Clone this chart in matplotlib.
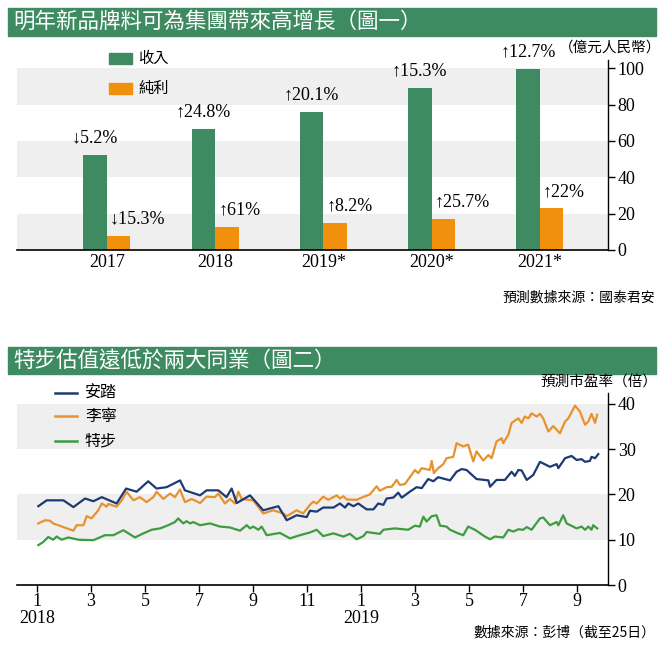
import matplotlib
matplotlib.use("Agg")
import matplotlib.pyplot as plt
from matplotlib.patches import Rectangle
import numpy as np

# ---------------- data: chart 1 ----------------
years = ['2017', '2018', '2019*', '2020*', '2021*']
revenue = [52.3, 66.6, 76.1, 89.0, 99.6]
profit = [7.7, 12.7, 15.0, 17.1, 22.9]
rev_growth = ['↓5.2%', '↑24.8%', '↑20.1%', '↑15.3%', '↑12.7%']
profit_growth = ['↓15.3%', '↑61%', '↑8.2%', '↑25.7%', '↑22%']

# ---------------- data: chart 2 (months since Jan 2018) ----------------
anta_m = [0.05, 0.36, 0.98, 1.35, 1.78, 2.09, 2.40, 2.95, 3.30, 3.69, 4.12, 4.43, 4.80, 5.30,
          5.48, 6.04, 6.28, 6.72, 7.02, 7.21, 7.40, 7.89, 8.38, 8.94, 9.25, 9.62, 9.99, 10.11,
          10.36, 10.60, 10.98, 11.22, 11.41, 11.53, 11.72, 11.90, 12.21, 12.46, 12.64, 12.83,
          12.95, 13.20, 13.38, 13.51, 13.81, 14.06, 14.25, 14.49, 14.68, 14.86, 15.30, 15.54,
          15.73, 15.91, 16.28, 16.72, 16.78, 17.02, 17.33, 17.58, 17.70, 17.83, 17.95, 18.14,
          18.38, 18.63, 19.00, 19.25, 19.31, 19.56, 19.80, 19.99, 20.17, 20.30, 20.48, 20.54,
          20.67, 20.79]
anta_v = [17.4, 18.7, 18.7, 17.2, 19.1, 18.5, 19.4, 18.0, 21.3, 20.6, 22.9, 21.3, 21.6, 23.1,
          20.9, 19.8, 20.9, 20.9, 19.4, 21.3, 18.1, 19.8, 16.5, 17.4, 14.3, 15.4, 15.0, 16.4,
          16.2, 17.1, 17.1, 18.0, 17.1, 18.0, 17.4, 18.0, 16.7, 16.7, 18.0, 17.7,
          19.1, 19.3, 20.4, 19.3, 20.6, 21.6, 21.4, 23.4, 22.9, 23.8, 23.1, 25.0,
          25.6, 25.4, 23.4, 23.1, 21.7, 23.2, 23.2, 25.0, 24.1, 25.4, 25.3, 23.2,
          24.3, 27.2, 26.1, 26.7, 25.8, 28.0, 28.5, 27.6, 27.8, 27.2, 27.4, 28.3,
          28.0, 28.9]

lining_m = [0.05, 0.30, 0.48, 0.60, 1.35, 1.47, 1.72, 1.84, 2.02, 2.27, 2.40, 2.58, 2.64, 2.95,
            3.14, 3.32, 3.57, 3.81, 4.06, 4.31, 4.43, 4.68, 4.93, 5.11, 5.30, 5.48, 5.73, 6.04,
            6.28, 6.59, 6.72, 6.96, 7.15, 7.33, 7.46, 7.58, 8.01, 8.38, 8.75, 9.12, 9.25, 9.62,
            9.86, 10.11, 10.23, 10.36, 10.60, 10.79, 11.10, 11.22, 11.35, 11.47, 11.84, 12.15,
            12.33, 12.58, 12.70, 12.95, 13.14, 13.32, 13.44, 13.63, 13.81, 14.00, 14.12, 14.25,
            14.55, 14.62, 14.70, 14.86, 15.05, 15.17, 15.42, 15.54, 15.79, 15.97, 16.16, 16.28,
            16.53, 16.72, 16.84, 17.02, 17.21, 17.27, 17.46, 17.58, 17.83, 17.95, 18.07, 18.20,
            18.32, 18.51, 18.63, 18.75, 18.94, 19.12, 19.37, 19.56, 19.68, 19.93, 20.11, 20.30,
            20.42, 20.54, 20.67, 20.75]
lining_v = [13.6, 14.3, 14.2, 13.6, 12.0, 13.2, 13.2, 15.2, 14.7, 16.5, 18.0, 17.3, 17.9, 17.3,
            18.7, 20.6, 18.7, 19.4, 18.3, 19.4, 20.6, 19.0, 20.2, 19.4, 21.1, 18.3, 19.0, 18.1,
            19.5, 19.4, 20.2, 18.0, 19.0, 18.0, 20.6, 19.0, 18.7, 15.8, 16.5, 15.8, 15.2, 16.5,
            15.8, 17.7, 18.4, 18.0, 19.5, 18.8, 19.8, 19.1, 19.6, 18.9, 18.8, 19.6,
            20.0, 21.8, 20.8, 21.6, 21.7, 23.2, 22.1, 22.3, 23.8, 25.4, 24.7, 25.8,
            25.4, 27.4, 24.7, 25.8, 26.7, 28.0, 28.3, 31.3, 30.6, 31.0, 27.3, 29.5,
            27.5, 28.7, 28.0, 31.7, 32.4, 31.3, 33.2, 35.8, 36.8, 35.8, 37.2, 36.8,
            37.9, 37.2, 37.8, 36.8, 33.9, 35.1, 33.5, 36.1, 36.8, 39.6, 38.3, 35.4,
            36.1, 37.8, 35.8, 37.6]

xtep_m = [0.05, 0.23, 0.42, 0.60, 0.73, 0.91, 1.16, 1.53, 2.09, 2.52, 2.83, 3.20, 3.63, 3.94,
          4.25, 4.56, 4.86, 5.11, 5.23, 5.42, 5.54, 5.67, 5.79, 6.04, 6.41, 6.78, 7.15, 7.52,
          7.77, 7.89, 8.01, 8.20, 8.32, 8.51, 9.00, 9.37, 9.74, 10.11, 10.36, 10.60, 10.98,
          11.35, 11.59, 11.84, 12.09, 12.21, 12.70, 12.83, 13.26, 13.75, 14.00, 14.18, 14.31,
          14.43, 14.62, 14.80, 14.93, 15.17, 15.30, 15.60, 15.79, 15.97, 16.22, 16.59, 16.78,
          16.96, 17.27, 17.46, 17.64, 17.83, 18.01, 18.14, 18.32, 18.63, 18.75, 19.00, 19.25,
          19.31, 19.49, 19.62, 19.99, 20.17, 20.30, 20.42, 20.54, 20.60, 20.75]
xtep_v = [8.8, 9.5, 10.6, 10.0, 10.7, 10.0, 10.5, 10.0, 9.9, 11.0, 11.0, 12.1, 10.5, 11.4,
          12.2, 12.5, 13.2, 13.9, 14.7, 13.6, 14.1, 13.6, 13.9, 13.2, 13.6, 12.9, 12.7, 12.0,
          13.2, 12.5, 12.9, 12.2, 12.9, 11.0, 11.5, 10.3, 11.0, 11.6, 12.2, 10.8, 11.4,
          10.7, 11.3, 10.1, 10.8, 11.7, 11.3, 12.2, 12.5, 12.2, 13.1, 12.9, 15.1,
          14.0, 15.2, 15.4, 13.1, 12.9, 12.2, 11.4, 11.0, 12.9, 12.2, 10.7, 10.1,
          10.7, 10.5, 12.2, 11.8, 12.3, 12.2, 12.8, 12.2, 14.7, 14.9, 13.2, 13.9,
          13.2, 15.4, 13.6, 12.5, 12.9, 12.2, 12.9, 12.2, 13.2, 12.5]

month_ticks = [0, 2, 4, 6, 8, 10, 12, 14, 16, 18, 20]
month_labels = ['1\n2018', '3', '5', '7', '9', '11', '1\n2019', '3', '5', '7', '9']

# ---------------- style ----------------
W, H = 672, 650
GREEN = '#3e8b62'
ORANGE = '#f0900c'
BAND = '#efefef'
SERIF = ['Liberation Serif', 'Noto Sans CJK TC', 'DejaVu Sans']
CJK = ['Noto Sans CJK TC', 'DejaVu Sans']
NAVY = '#1c3a74'
LORANGE = '#e8922e'
LGREEN = '#3f9b3f'
TS = 13

fig = plt.figure(figsize=(W / 100, H / 100), dpi=100)


def fx(x):
    return x / W


def fy(y):
    return 1 - y / H


def title_bar(y0, y1, text):
    fig.patches.append(Rectangle((fx(8), fy(y1)), fx(656) - fx(8), fy(y0) - fy(y1),
                                 transform=fig.transFigure, color=GREEN, zorder=0))
    fig.text(fx(13), fy((y0 + y1) / 2), text, color='white', fontsize=15.5,
             family=CJK, ha='left', va='center')


title_bar(8, 36, '明年新品牌料可為集團帶來高增長（圖一）')
title_bar(347, 374, '特步估值遠低於兩大同業（圖二）')

# ---------------- chart 1 ----------------
ax1 = fig.add_axes([fx(17), fy(250), fx(608) - fx(17), fy(60) - fy(250)])
x = np.arange(len(years))
bw = 0.217
for lo, hi in [(0, 20), (40, 60), (80, 100)]:
    ax1.axhspan(lo, hi, color=BAND, zorder=0, lw=0)
ax1.bar(x - bw / 2, revenue, bw, color=GREEN, zorder=2, label='收入')
ax1.bar(x + bw / 2, profit, bw, color=ORANGE, zorder=2, label='純利')
for i in range(len(years)):
    ax1.annotate(rev_growth[i], (x[i] - bw / 2, revenue[i]), xytext=(0, 6),
                 textcoords='offset points', ha='center', va='bottom',
                 fontsize=TS, family=SERIF)
    ax1.annotate(profit_growth[i], (x[i] + 0.03, profit[i]), xytext=(0, 6),
                 textcoords='offset points', ha='left', va='bottom',
                 fontsize=TS, family=SERIF)
ax1.set_xlim(-0.83, 4.63)
ax1.set_ylim(0, 104.5)
ax1.set_xticks(x)
ax1.set_xticklabels(years, family=SERIF, fontsize=TS)
ax1.tick_params(axis='x', length=0, pad=3)
ax1.yaxis.tick_right()
ax1.set_yticks([0, 20, 40, 60, 80, 100])
ax1.tick_params(axis='y', direction='out', length=5, width=1, labelsize=TS, pad=2)
for lab in ax1.get_yticklabels():
    lab.set_family(SERIF)
for s in ['top', 'left']:
    ax1.spines[s].set_visible(False)
ax1.spines['right'].set_linewidth(1)
ax1.spines['bottom'].set_linewidth(1.2)
ax1.set_facecolor('none')

# legend chart 1
fig.patches.append(Rectangle((fx(109), fy(64)), fx(23), fy(53) - fy(64),
                             transform=fig.transFigure, color=GREEN))
fig.text(fx(138), fy(58.5), '收入', fontsize=11, family=CJK, va='center')
fig.patches.append(Rectangle((fx(109), fy(93.5)), fx(23), fy(82.5) - fy(93.5),
                             transform=fig.transFigure, color=ORANGE))
fig.text(fx(138), fy(88), '純利', fontsize=11, family=CJK, va='center')
fig.text(fx(661), fy(48), '（億元人民幣）', fontsize=10.5, family=CJK, ha='right', va='center')
fig.text(fx(655), fy(298), '預測數據來源：國泰君安', fontsize=10, family=CJK,
         ha='right', va='center')

# ---------------- chart 2 ----------------
ax2 = fig.add_axes([fx(17), fy(585), fx(608) - fx(17), fy(393) - fy(585)])
for lo, hi in [(10, 20), (30, 40)]:
    ax2.axhspan(lo, hi, color=BAND, zorder=0, lw=0)
ax2.plot(anta_m, anta_v, color=NAVY, lw=1.6, zorder=3)
ax2.plot(lining_m, lining_v, color=LORANGE, lw=1.6, zorder=2)
ax2.plot(xtep_m, xtep_v, color=LGREEN, lw=1.6, zorder=2)
ax2.set_xlim(-0.74, 21.15)
ax2.set_ylim(0, 42.4)
ax2.set_xticks(month_ticks)
ax2.set_xticklabels(month_labels, family=SERIF, fontsize=TS, linespacing=0.95)
ax2.tick_params(axis='x', direction='out', length=5, width=1, pad=1)
ax2.yaxis.tick_right()
ax2.set_yticks([0, 10, 20, 30, 40])
ax2.tick_params(axis='y', direction='out', length=5, width=1, labelsize=TS, pad=2)
for lab in ax2.get_yticklabels():
    lab.set_family(SERIF)
for s in ['top', 'left']:
    ax2.spines[s].set_visible(False)
ax2.spines['right'].set_linewidth(1)
ax2.spines['bottom'].set_linewidth(1.2)
ax2.set_facecolor('none')

# legend chart 2
for yy, name, col in [(393, '安踏', NAVY), (416, '李寧', LORANGE), (441, '特步', LGREEN)]:
    fig.lines.append(plt.Line2D([fx(55), fx(77)], [fy(yy), fy(yy)], color=col, lw=1.8,
                                transform=fig.transFigure))
    fig.text(fx(85), fy(yy), name, fontsize=11.5, family=CJK, va='center')

fig.text(fx(657), fy(383), '預測市盈率（倍）', fontsize=10.5, family=CJK, ha='right', va='center')
fig.text(fx(655), fy(633), '數據來源：彭博（截至25日）', fontsize=10, family=CJK,
         ha='right', va='center')

fig.savefig('out.png', dpi=100)
